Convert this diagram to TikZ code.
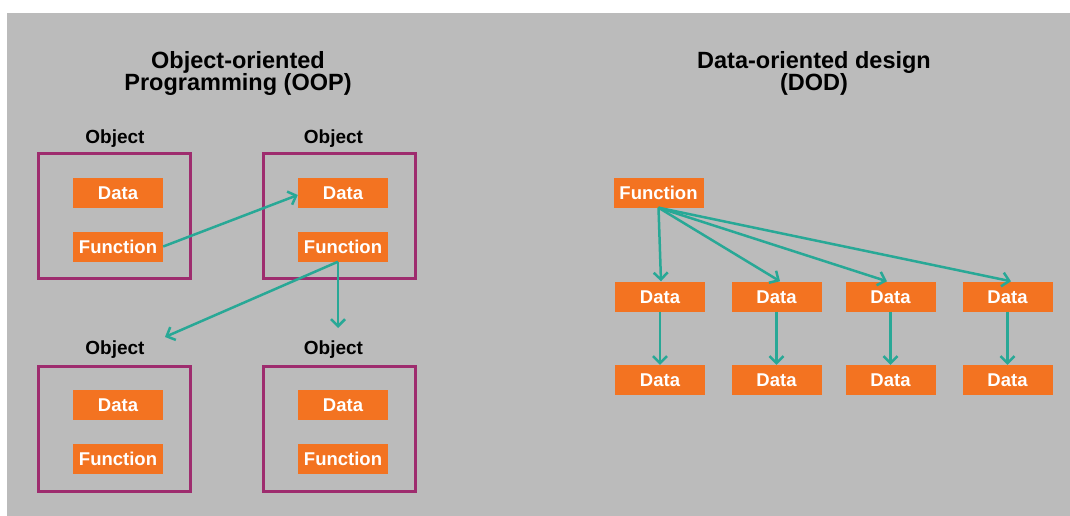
\documentclass[tikz,border=0pt]{standalone}
\usepackage{fontspec}
\setmainfont{Liberation Sans}
\usetikzlibrary{arrows.meta}
\definecolor{panelgray}{RGB}{187,187,187}
\definecolor{boxorange}{RGB}{243,115,33}
\definecolor{objpurple}{RGB}{158,44,110}
\definecolor{linkteal}{RGB}{40,168,150}
\newcommand{\tightlines}{\lineskiplimit=-30pt\relax}

\begin{document}
\begin{tikzpicture}[x=1pt,y=-1pt,
  item/.style={fill=boxorange, text=white, font=\fontsize{18.5}{20}\selectfont\bfseries,
    minimum width=90pt, minimum height=30pt, inner sep=0pt, text height=13.3pt, text depth=0pt},
  objbox/.style={draw=objpurple, line width=3pt, minimum width=152pt, minimum height=125pt, inner sep=0pt},
  objlabel/.style={font=\fontsize{19}{20}\selectfont\bfseries, anchor=base, inner sep=0pt},
  title/.style={font=\fontsize{23.5}{21.5}\selectfont\bfseries\tightlines,
    align=center, anchor=base, inner sep=0pt},
  link/.style={draw=linkteal, line width=2.5pt, -{Straight Barb[length=7pt,width=14pt]}}
]
% canvas
\useasboundingbox (0,0) rectangle (1070,516);
\fill[white] (0,0) rectangle (1070,516);
\fill[panelgray] (7,13) rectangle (1070,516);

% ---------- Object-oriented programming ----------
\node[title] (oop) at (238,90.5) {Object-oriented\\Programming (OOP)};

\node[objbox] (o1) at (114.6,216) {};
\node[objbox] (o2) at (339.5,216) {};
\node[objbox] (o3) at (114.6,429) {};
\node[objbox] (o4) at (339.5,429) {};

\node[objlabel] (l1) at (115,143) {Object};
\node[objlabel] (l2) at (333.5,143) {Object};
\node[objlabel] (l3) at (115,354) {Object};
\node[objlabel] (l4) at (333.5,354) {Object};

\node[item] (d1) at (118,193) {Data};
\node[item] (f1) at (118,246.5) {Function};
\node[item] (d2) at (343,193) {Data};
\node[item] (f2) at (343,246.5) {Function};
\node[item] (d3) at (118,405) {Data};
\node[item] (f3) at (118,458.5) {Function};
\node[item] (d4) at (343,405) {Data};
\node[item] (f4) at (343,458.5) {Function};

\coordinate (hub) at ([xshift=-5pt]f2.south);
\coordinate (t3) at (165,337);
\coordinate (t4) at (338,328);

\draw[link] (f1.east) -- ([yshift=-2pt]d2.west);
\draw[link] (hub) -- (t3);
\draw[link] (hub) -- (t4);

% ---------- Data-oriented design ----------
\node[title] (dod) at (814,90.5) {Data-oriented design\\(DOD)};

\node[item] (fn) at (658.5,192.5) {Function};

\foreach \i/\x/\dx in {1/660/1,2/776.5/3.5,3/890.5/-3.5,4/1007.5/3.5}{
  \node[item] (a\i) at (\x,296.5) {Data};
  \node[item] (b\i) at (\x,380) {Data};
  \draw[link] (fn.south) -- ([xshift=\dx pt]a\i.north);
  \draw[link] (a\i.south) -- (b\i.north);
}
\end{tikzpicture}
\end{document}
